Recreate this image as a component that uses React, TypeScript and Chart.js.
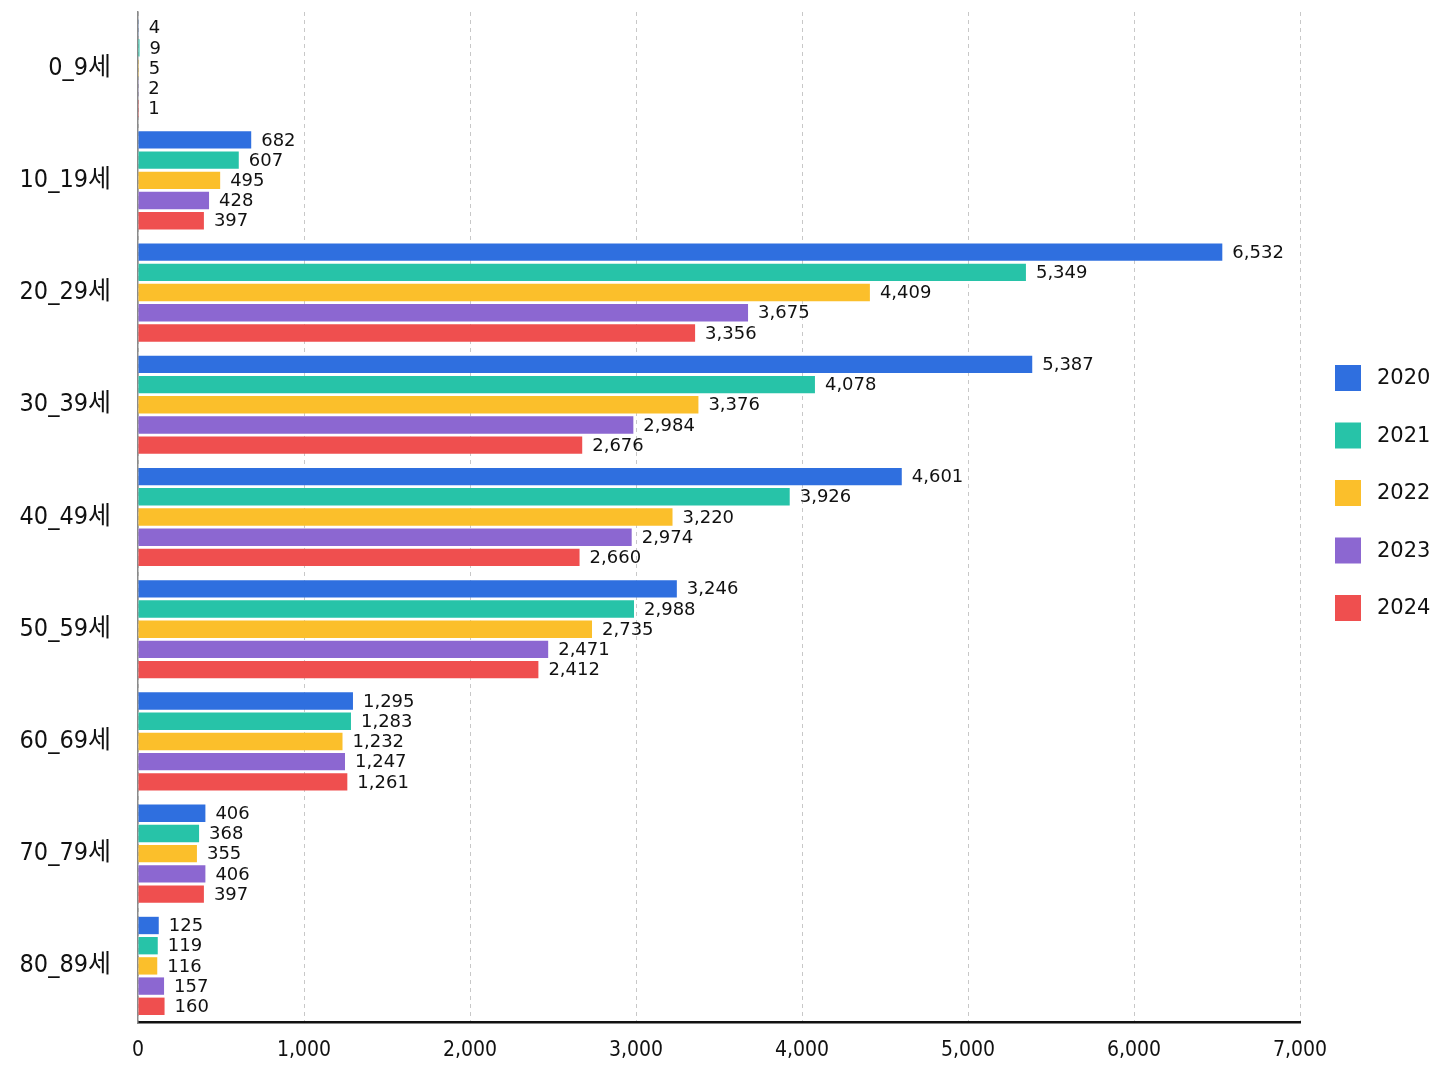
import React, { useEffect, useRef } from 'react';
import Chart from 'chart.js/auto';

const ageGroups = ['0_9세', '10_19세', '20_29세', '30_39세', '40_49세', '50_59세', '60_69세', '70_79세', '80_89세'];
const years = ['2020', '2021', '2022', '2023', '2024'];
const colors = ['#2f6fdf', '#27c3a8', '#fbbf2b', '#8c67d1', '#ef4f4f'];

const values2020 = [4, 682, 6532, 5387, 4601, 3246, 1295, 406, 125];
const values2021 = [9, 607, 5349, 4078, 3926, 2988, 1283, 368, 119];
const values2022 = [5, 495, 4409, 3376, 3220, 2735, 1232, 355, 116];
const values2023 = [2, 428, 3675, 2984, 2974, 2471, 1247, 406, 157];
const values2024 = [1, 397, 3356, 2676, 2660, 2412, 1261, 397, 160];

const xTicksMax = 7000;
const xTicksStep = 1000;

const narrowFont = "'Liberation Sans Narrow', 'DejaVu Sans Condensed', 'Noto Sans CJK KR', sans-serif";
const labelFont = "'DejaVu Sans', 'Noto Sans CJK KR', sans-serif";

// value at the end of each bar
const valueLabels = {
  id: 'valueLabels',
  afterDatasetsDraw(chart: Chart) {
    const ctx = chart.ctx;
    ctx.save();
    ctx.font = `18px ${labelFont}`;
    ctx.fillStyle = '#111';
    ctx.textAlign = 'left';
    ctx.textBaseline = 'middle';
    chart.data.datasets.forEach((ds, i) => {
      const meta = chart.getDatasetMeta(i);
      meta.data.forEach((bar: any, j) => {
        const v = ds.data[j] as number;
        ctx.fillText(v.toLocaleString('en-US'), bar.x + 10, bar.y + 1);
      });
    });
    ctx.restore();
  },
};

// legend on the right, square boxes
const sideLegend = {
  id: 'sideLegend',
  afterDraw(chart: Chart) {
    const { ctx, chartArea } = chart;
    const box = 26;
    const step = 57.5;
    const n = chart.data.datasets.length;
    const centerY = (chartArea.top + chartArea.bottom) / 2 - 24;
    const startY = centerY - ((n - 1) * step) / 2;
    const x = chartArea.right + 35;
    ctx.save();
    ctx.font = `21px ${labelFont}`;
    ctx.textAlign = 'left';
    ctx.textBaseline = 'middle';
    chart.data.datasets.forEach((ds, i) => {
      const y = startY + i * step;
      ctx.fillStyle = ds.backgroundColor as string;
      ctx.fillRect(x, y - box / 2, box, box);
      ctx.fillStyle = '#111';
      ctx.fillText(ds.label as string, x + box + 16, y + 1);
    });
    ctx.restore();
  },
};

export default function App() {
  const canvasRef = useRef<HTMLCanvasElement>(null);
  const chartInstance = useRef<Chart | null>(null);

  useEffect(() => {
    if (!canvasRef.current) return;
    const ctx = canvasRef.current.getContext('2d');
    if (!ctx) return;

    if (chartInstance.current) {
      chartInstance.current.destroy();
    }

    const series = [values2020, values2021, values2022, values2023, values2024];

    chartInstance.current = new Chart(ctx, {
      type: 'bar',
      data: {
        labels: ageGroups,
        datasets: years.map((year, i) => ({
          label: year,
          data: series[i],
          backgroundColor: colors[i],
          borderWidth: 0,
          categoryPercentage: 0.9,
          barPercentage: 0.86,
        })),
      },
      options: {
        indexAxis: 'y',
        responsive: true,
        maintainAspectRatio: false,
        animation: false,
        layout: { padding: { top: 12, right: 148, left: 0, bottom: 0 } },
        plugins: {
          legend: { display: false },
          tooltip: { enabled: false },
        },
        scales: {
          x: {
            min: 0,
            max: xTicksMax,
            afterFit: (scale: any) => {
              scale.height = 64;
              scale.paddingLeft = 0;
              scale.paddingRight = 0;
            },
            grid: { color: '#c8c8c8', lineWidth: 1, drawTicks: false },
            border: { display: true, color: '#111', width: 2.5, dash: [4, 4] },
            ticks: {
              stepSize: xTicksStep,
              padding: 16,
              color: '#111',
              font: { family: narrowFont, size: 21 },
              callback: (v: any) => Number(v).toLocaleString('en-US'),
            },
          },
          y: {
            afterFit: (scale: any) => {
              scale.width = 138;
              scale.paddingTop = 0;
              scale.paddingBottom = 0;
            },
            grid: { display: false, drawTicks: false },
            border: { display: true, color: '#8a8a8a', width: 1.5 },
            ticks: {
              padding: 27,
              color: '#111',
              font: { family: narrowFont, size: 25 },
            },
          },
        },
      },
      plugins: [valueLabels, sideLegend],
    });

    return () => {
      if (chartInstance.current) {
        chartInstance.current.destroy();
        chartInstance.current = null;
      }
    };
  }, []);

  return (
    <div style={{ position: 'fixed', left: 0, top: 0, width: 1448, height: 1086, background: '#fff' }}>
      <canvas ref={canvasRef}></canvas>
    </div>
  );
}
